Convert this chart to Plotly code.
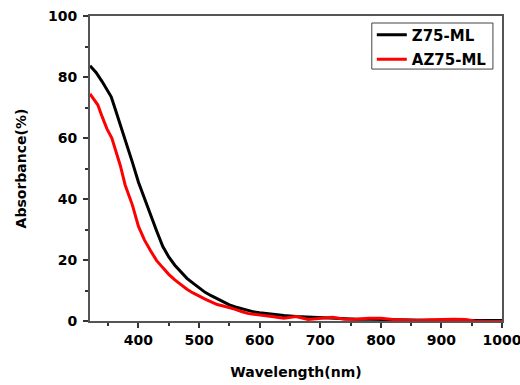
import plotly.graph_objects as go

wl_z75 = [320, 330, 340, 350, 355, 360, 370, 380, 390, 400, 410, 420, 430, 440, 450, 460, 470, 480, 490,
          500, 510, 520, 530, 540, 550, 560, 570, 580, 590, 600, 620, 640, 660, 680, 700, 720, 740, 760,
          780, 800, 820, 840, 860, 880, 900, 920, 940, 960, 980, 1000]
abs_z75 = [83.7, 81.5, 78.5, 75.0, 73.5, 70.5, 64.5, 58.0, 52.0, 45.5, 40.0, 35.0, 29.5, 24.5, 21.0, 18.3,
           16.0, 14.0, 12.4, 10.8, 9.4, 8.3, 7.3, 6.3, 5.3, 4.6, 4.0, 3.5, 3.0, 2.7, 2.2, 1.8, 1.5, 1.3,
           1.1, 1.0, 0.8, 0.6, 0.6, 0.5, 0.5, 0.4, 0.3, 0.3, 0.2, 0.2, 0.2, 0.0, 0.2, 0.2]

wl_az75 = [320, 325, 333, 340, 348, 356, 360, 367, 370, 378, 380, 390, 400, 410, 420, 430, 440, 450, 460,
           470, 480, 490, 500, 510, 520, 530, 540, 550, 560, 570, 580, 590, 600, 620, 640, 660, 680, 700,
           720, 740, 760, 780, 800, 820, 840, 860, 880, 900, 920, 940, 955, 975, 1000]
abs_az75 = [74.5, 73.0, 70.8, 67.0, 63.0, 60.0, 57.5, 52.8, 51.0, 44.6, 43.5, 38.0, 31.0, 26.5, 23.0, 19.8,
            17.5, 15.3, 13.5, 11.8, 10.4, 9.2, 8.1, 7.2, 6.3, 5.4, 4.9, 4.4, 3.8, 3.1, 2.5, 2.2, 2.0, 1.5,
            0.9, 1.5, 0.5, 0.9, 1.2, 0.6, 0.6, 0.9, 0.9, 0.5, 0.3, 0.2, 0.4, 0.6, 0.6, 0.5, 0.0, -0.2, -0.2]

x_ticks = [400, 500, 600, 700, 800, 900, 1000]
y_ticks = [0, 20, 40, 60, 80, 100]

fig = go.Figure()
fig.add_trace(go.Scatter(x=wl_z75, y=abs_z75, mode="lines", name="Z75-ML", legendgroup="a",
                         line=dict(color="black", width=3)))
fig.add_trace(go.Scatter(x=wl_az75, y=abs_az75, mode="lines", name="AZ75-ML", legendgroup="b",
                         line=dict(color="#ff0000", width=3)))

font_family = "DejaVu Sans, sans-serif"
axis_common = dict(
    showline=True, linecolor="#555555", linewidth=2, mirror=True,
    ticks="outside", ticklen=5, tickwidth=1.5, tickcolor="#333333",
    showgrid=False, zeroline=False, automargin=False, ticklabeloverflow="allow",
    tickfont=dict(family=font_family, size=14, color="black", weight="bold"),
)

fig.update_xaxes(range=[320, 1000], tickvals=x_ticks,
                 minor=dict(ticks="outside", ticklen=3, tickwidth=1.5, tickcolor="#333333",
                            tick0=350, dtick=100),
                 title=dict(text="<b>Wavelength(nm)</b>", standoff=20,
                            font=dict(family=font_family, size=14, color="black")),
                 **axis_common)
fig.update_yaxes(range=[0, 100], tickvals=y_ticks, ticklabelstandoff=3,
                 minor=dict(ticks="outside", ticklen=3, tickwidth=1.5, tickcolor="#333333",
                            tick0=10, dtick=20),
                 title=dict(text="<b>Absorbance(%)</b>", standoff=18,
                            font=dict(family=font_family, size=14, color="black")),
                 **axis_common)

# legend frame drawn as a tight box around the legend entries
fig.add_shape(type="rect", xref="paper", yref="paper",
              x0=0.684, x1=0.978, y0=0.826, y1=0.977,
              line=dict(color="#444444", width=1), fillcolor="rgba(0,0,0,0)", layer="above")

fig.update_layout(
    width=520, height=385,
    margin=dict(l=90, r=18, t=16, b=64),
    paper_bgcolor="white", plot_bgcolor="white",
    legend=dict(x=0.684, y=0.992, xanchor="left", yanchor="top",
                borderwidth=0, bgcolor="rgba(0,0,0,0)",
                font=dict(family=font_family, size=15, color="black", weight="bold"),
                traceorder="grouped", tracegroupgap=2, itemwidth=30),
)

fig.write_html("out.html", config={"displayModeBar": False},
               post_script="document.body.style.margin='0';")
